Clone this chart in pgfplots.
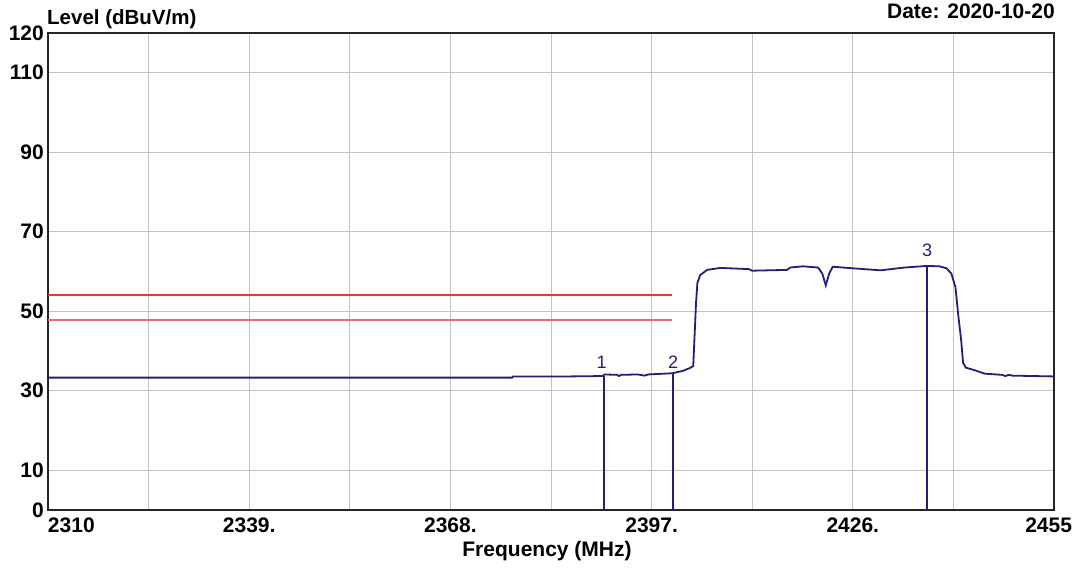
\documentclass[border=0pt]{standalone}
\usepackage{fontspec}
\setmainfont{Liberation Sans}
\usepackage{pgfplots}
\pgfplotsset{compat=1.18}

\definecolor{tracecol}{RGB}{32,32,120}
\definecolor{limredlight}{RGB}{225,110,115}
\definecolor{gridc}{RGB}{195,195,195}

\begin{document}
\begin{tikzpicture}
\begin{axis}[
    name=ax,
    scale only axis,
    width=1006pt, height=477pt,
    xmin=2310, xmax=2455, ymin=0, ymax=120,
    xtick={2310,2339,2368,2397,2426,2455},
    xticklabels={\rlap{2310},2339.,2368.,2397.,2426.,\llap{2455\kern-18pt}},
    minor xtick={2324.5,2353.5,2382.5,2411.5,2440.5},
    ytick={0,10,30,50,70,90,110,120},
    yticklabels={0,10,30,50,70,90,110,120},
    major tick length=0pt, minor tick length=0pt,
    grid=both,
    major grid style={gridc, line width=1pt},
    minor grid style={gridc, line width=1pt},
    axis line style={black!85, line width=2pt},
    tick label style={font=\fontsize{21}{24}\selectfont\bfseries, inner sep=0pt},
    xticklabel style={anchor=north, yshift=-8pt},
    yticklabel style={anchor=east, xshift=-4pt},
]

% measured trace
\addplot[color=tracecol, line width=1.8pt] coordinates {
    (2310,33.3) (2376.9,33.3) (2377.0,33.6) (2385,33.6) (2390.0,33.7)
    (2390.2,34.1) (2392.0,34.0) (2392.3,33.7) (2392.6,34.0) (2395,34.1)
    (2396,33.8) (2396.5,34.1) (2400.0,34.4) (2401.5,35.0) (2402.5,35.7)
    (2403.0,36.2) (2403.2,44) (2403.4,52) (2403.6,57.1) (2404.0,59.1)
    (2405.0,60.4) (2406.9,60.9) (2411,60.6) (2411.5,60.2) (2416.5,60.4)
    (2417,61.0) (2418.8,61.3) (2421.0,61.0) (2421.6,59.5) (2422.1,56.5)
    (2422.6,59.5) (2423.1,61.2) (2426,60.8) (2430,60.3) (2433.5,61.0)
    (2436.7,61.4) (2438.5,61.3) (2439.5,60.8) (2440.2,59.5) (2440.8,56.0)
    (2441.2,49) (2441.6,43) (2441.9,37) (2442.3,35.8) (2443.5,35.2)
    (2445,34.3) (2447.5,34.0) (2448,33.7) (2448.5,34.0) (2449,33.8) (2455,33.6)
};

% limit lines
\addplot[color=limredlight, line width=1.1pt] coordinates {(2310,47.8) (2400,47.8)};
\addplot[color={rgb,255:red,230;green,55;blue,60}, line width=1.6pt] coordinates {(2310,54.1) (2400,54.1)};

% markers
\addplot[color=tracecol, line width=1.6pt] coordinates {(2390.1,0) (2390.1,33.8)}
    node[pos=1, anchor=south, inner sep=0pt, xshift=-2pt, yshift=6pt,
         font=\fontsize{18}{21}\selectfont] {1};
\addplot[color=tracecol, line width=1.6pt] coordinates {(2400.1,0) (2400.1,34.4)}
    node[pos=1, anchor=south, inner sep=0pt, yshift=4pt,
         font=\fontsize{18}{21}\selectfont] {2};
\addplot[color=tracecol, line width=1.6pt] coordinates {(2436.7,0) (2436.7,61.4)}
    node[pos=1, anchor=south, inner sep=0pt, yshift=8pt,
         font=\fontsize{18}{21}\selectfont] {3};
\end{axis}

\node[anchor=base west, inner sep=0pt, font=\fontsize{20.5}{24}\selectfont\bfseries]
    at ([xshift=-1pt,yshift=8pt]ax.north west) {Level (dBuV/m)};
\node[anchor=base east, inner sep=0pt, font=\fontsize{21}{24}\selectfont\bfseries]
    at ([xshift=1pt,yshift=14pt]ax.north east) {Date: 2020-10-20};
\node[anchor=center, inner sep=0pt, font=\fontsize{21}{24}\selectfont\bfseries]
    at ([xshift=-4pt,yshift=-41pt]ax.south) {Frequency (MHz)};

\pgfresetboundingbox
\path ([xshift=-48pt,yshift=-59pt]ax.south west) rectangle ([xshift=24pt,yshift=33pt]ax.north east);
\end{tikzpicture}
\end{document}
